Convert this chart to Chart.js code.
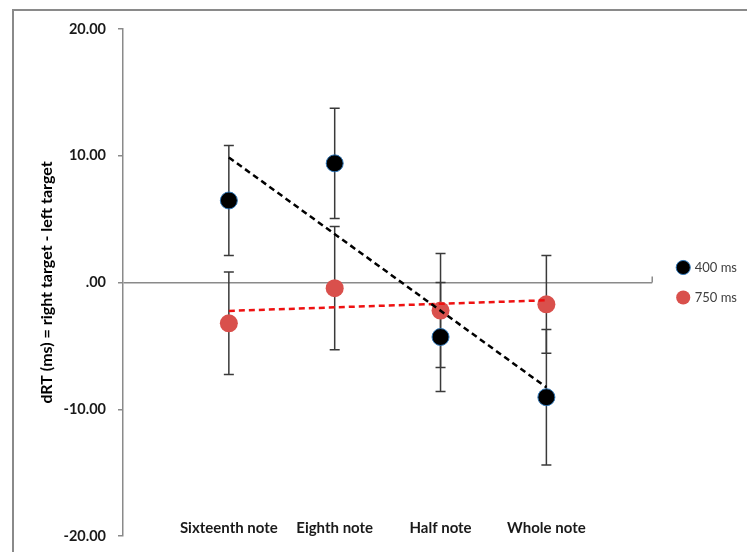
<!DOCTYPE html>
<html>
<head>
<meta charset="utf-8">
<script src="https://cdn.jsdelivr.net/npm/chart.js@4.4.1/dist/chart.umd.min.js"></script>
<style>
  html, body { margin: 0; padding: 0; background: #fff; }
  #frame {
    position: absolute; left: 12px; top: 9px;
    width: 735px; height: 543px;
    border-left: 2px solid #8a8a8a; border-top: 2px solid #8a8a8a;
  }
  #wrap { position: absolute; left: 0; top: 0; width: 733px; height: 541px; }
</style>
</head>
<body>
<div id="frame"><div id="wrap"><canvas id="chartDRT"></canvas></div></div>
<script>
// Data
const categories = ["Sixteenth note", "Eighth note", "Half note", "Whole note"];
const xPos = [1, 2, 3, 4];
const mean400 = [6.47, 9.4, -4.3, -9.05];
const err400 = [4.33, 4.35, 4.3, 5.35];
const mean750 = [-3.22, -0.45, -2.21, -1.72];
const err750 = [4.04, 4.86, 4.5, 3.86];
const trendX = [1, 4];
const trend400 = [9.87, -8.27];
const trend750 = [-2.24, -1.40];
const yTicks = [-20, -10, 0, 10, 20];
const yTitle = "dRT (ms) = right target - left target";

const FONT = "Lato, 'Open Sans', sans-serif";

function pts(xs, ys) {
  return xs.map((x, i) => ({ x: x, y: ys[i] }));
}

// Error bars drawn through the chart scales
const errorBars = {
  id: "errorBars",
  beforeDatasetsDraw(chart) {
    const ctx = chart.ctx;
    const xs = chart.scales.x, ys = chart.scales.y;
    const sets = [[mean400, err400], [mean750, err750]];
    ctx.save();
    ctx.strokeStyle = "#3a3a3a";
    ctx.lineWidth = 1.5;
    sets.forEach(([m, e]) => {
      m.forEach((v, i) => {
        const px = xs.getPixelForValue(xPos[i]);
        const top = ys.getPixelForValue(v + e[i]);
        const bot = ys.getPixelForValue(v - e[i]);
        ctx.beginPath();
        ctx.moveTo(px, top); ctx.lineTo(px, bot);
        ctx.moveTo(px - 5, top); ctx.lineTo(px + 5, top);
        ctx.moveTo(px - 5, bot); ctx.lineTo(px + 5, bot);
        ctx.stroke();
      });
    });
    // small tick at the right end of the zero line
    const xr = xs.getPixelForValue(5), y0 = ys.getPixelForValue(0);
    ctx.strokeStyle = "#8a8a8a";
    ctx.beginPath();
    ctx.moveTo(xr, y0); ctx.lineTo(xr, y0 - 6);
    ctx.stroke();
    ctx.restore();
  }
};

// Category labels inside the plot, y-axis title on the left
const textLabels = {
  id: "textLabels",
  afterDraw(chart) {
    const ctx = chart.ctx;
    const xs = chart.scales.x, ys = chart.scales.y;
    const area = chart.chartArea;
    ctx.save();
    ctx.font = "bold 15px " + FONT;
    ctx.fillStyle = "#1a1a1a";
    ctx.textAlign = "center";
    ctx.textBaseline = "middle";
    categories.forEach((c, i) => {
      ctx.fillText(c, xs.getPixelForValue(xPos[i]), ys.getPixelForValue(-20) - 8);
    });
    ctx.translate(area.left - 76, (area.top + area.bottom) / 2);
    ctx.rotate(-Math.PI / 2);
    ctx.font = "bold 16px " + FONT;
    ctx.fillStyle = "#000000";
    ctx.fillText(yTitle, 0, 0);
    ctx.restore();
  }
};

new Chart(document.getElementById("chartDRT"), {
  type: "scatter",
  data: {
    datasets: [
      {
        label: "400 ms",
        data: pts(xPos, mean400),
        yAxisID: "y",
        backgroundColor: "#000000",
        borderColor: "#2e75b6",
        borderWidth: 1,
        pointRadius: 8.5,
        order: 2
      },
      {
        label: "750 ms",
        data: pts(xPos, mean750),
        yAxisID: "y",
        backgroundColor: "#d9504c",
        borderColor: "#d9504c",
        borderWidth: 0,
        pointRadius: 9,
        order: 3
      },
      {
        label: "trend400",
        data: pts(trendX, trend400),
        yAxisID: "y",
        showLine: true,
        borderColor: "#000000",
        borderWidth: 2.5,
        borderDash: [6, 4],
        pointRadius: 0,
        order: 0
      },
      {
        label: "trend750",
        data: pts(trendX, trend750),
        yAxisID: "y",
        showLine: true,
        borderColor: "#ee1111",
        borderWidth: 2.5,
        borderDash: [6, 4],
        pointRadius: 0,
        order: 1
      }
    ]
  },
  options: {
    responsive: true,
    maintainAspectRatio: false,
    animation: false,
    layout: { padding: { left: 0, top: 18, bottom: 16, right: 0 } },
    plugins: {
      tooltip: { enabled: false },
      legend: {
        position: "right",
        labels: {
          filter: item => item.text === "400 ms" || item.text === "750 ms",
          usePointStyle: true,
          pointStyle: "circle",
          boxWidth: 10,
          boxHeight: 10,
          padding: 17,
          color: "#404040",
          font: { family: FONT, size: 13 }
        }
      }
    },
    scales: {
      x: {
        type: "linear",
        min: 0,
        max: 5,
        display: false
      },
      y: {
        min: -20,
        max: 20,
        afterBuildTicks: s => { s.ticks = yTicks.map(v => ({ value: v })); },
        afterFit: s => { s.width = 109; s.paddingTop = 0; s.paddingBottom = 0; },
        border: { display: true, color: "#8a8a8a", width: 1.5 },
        grid: {
          drawTicks: true,
          tickLength: 5,
          tickColor: "#8a8a8a",
          lineWidth: 1.5,
          color: c => (c.tick && c.tick.value === 0 ? "#8a8a8a" : "rgba(0,0,0,0)")
        },
        ticks: {
          padding: 12,
          color: "#1a1a1a",
          font: { family: FONT, size: 14.5, weight: "bold" },
          callback: v => (v === 0 ? ".00" : v.toFixed(2))
        }
      },
      gap: {
        // empty right-hand axis, only keeps the legend clear of the plot
        type: "linear",
        position: "right",
        display: true,
        grid: { display: false },
        border: { display: false },
        ticks: { display: false },
        afterFit: s => { s.width = 9; s.paddingTop = 0; s.paddingBottom = 0; }
      }
    }
  },
  plugins: [errorBars, textLabels]
});
</script>
</body>
</html>
